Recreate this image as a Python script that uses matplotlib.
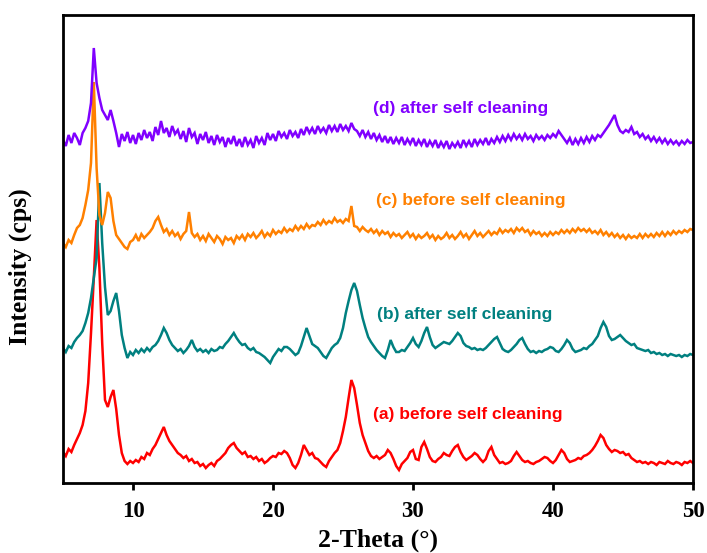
import numpy as np
import matplotlib
matplotlib.use("Agg")
import matplotlib.pyplot as plt

# 2-theta sampling (degrees)
two_theta = np.round(np.linspace(5.0, 50.0, 226), 1)

# (a) before self cleaning
intensity_a = [
    31, 27, 34, 31, 38, 44, 50, 58, 72, 100,
    150, 205, 263, 215, 140, 83, 76, 86, 93, 74,
    48, 30, 22, 19, 22, 20, 23, 21, 26, 24,
    30, 28, 34, 38, 44, 50, 56, 48, 42, 38,
    34, 30, 28, 25, 27, 22, 24, 20, 21, 17,
    19, 15, 18, 20, 17, 22, 24, 27, 30, 35,
    38, 40, 35, 32, 29, 31, 26, 27, 24, 26,
    22, 24, 20, 22, 25, 27, 26, 30, 29, 32,
    30, 25, 18, 15, 20, 28, 38, 33, 28, 30,
    25, 24, 21, 18, 16, 22, 26, 30, 33, 40,
    52, 66, 85, 103, 95, 78, 60, 48, 40, 32,
    27, 25, 27, 24, 26, 28, 33, 30, 24, 17,
    13, 19, 22, 25, 31, 33, 24, 23, 36, 41,
    34, 26, 22, 21, 24, 26, 30, 28, 27, 32,
    36, 38, 31, 26, 23, 25, 27, 30, 28, 24,
    21, 24, 32, 36, 28, 24, 20, 21, 19, 20,
    22, 27, 31, 27, 23, 21, 22, 20, 19, 21,
    22, 24, 26, 25, 22, 20, 23, 28, 33, 30,
    24, 21, 22, 23, 25, 24, 27, 28, 30, 33,
    37, 42, 48, 45, 38, 34, 31, 33, 32, 30,
    31, 28, 29, 25, 23, 21, 22, 20, 21, 19,
    21, 20, 18, 21, 20, 19, 22, 20, 19, 21,
    20, 18, 21, 20, 22, 20,
]

# (b) after self cleaning
intensity_b = [
    35, 31, 37, 35, 41, 45, 48, 52, 60, 70,
    85, 105, 125, 200, 140, 96, 68, 72, 82, 90,
    72, 48, 35, 25, 31, 28, 33, 30, 34, 31,
    35, 32, 36, 38, 42, 48, 55, 50, 43, 38,
    35, 32, 34, 30, 33, 37, 43, 36, 32, 34,
    31, 33, 30, 34, 32, 33, 36, 35, 39, 42,
    46, 50, 45, 41, 38, 39, 35, 33, 35, 31,
    30, 28, 26, 23, 20, 26, 30, 34, 32, 36,
    36, 34, 31, 28, 30, 37, 46, 55, 47, 39,
    37, 35, 31, 27, 25, 30, 35, 38, 40, 45,
    55, 70, 82, 93, 100, 92, 78, 65, 55, 46,
    41, 37, 33, 30, 27, 25, 33, 43, 36, 31,
    31, 33, 32, 36, 40, 45, 39, 36, 42, 50,
    56, 46, 38, 35, 37, 39, 41, 40, 39, 42,
    46, 50, 47, 40, 37, 36, 34, 35, 33, 34,
    33, 35, 38, 41, 44, 46, 40, 34, 32, 31,
    33, 36, 39, 43, 45, 39, 34, 31, 32, 30,
    32, 31, 33, 34, 36, 35, 32, 31, 34, 38,
    43, 40, 34, 31, 32, 33, 35, 34, 37, 39,
    43, 47, 55, 61, 56, 47, 43, 44, 46, 48,
    45, 42, 40, 38, 39, 35, 34, 33, 32, 33,
    30, 31, 29, 30, 28, 29, 27, 29, 28, 27,
    28, 26, 28, 27, 29, 28,
]

# (c) before self cleaning
intensity_c = [
    30, 26, 33, 30, 38, 45, 48, 55, 68, 83,
    110, 191, 105, 58, 48, 60, 81, 75, 52, 38,
    34, 30, 26, 24, 31, 33, 38, 32, 39, 35,
    38, 41, 45, 52, 56, 48, 41, 44, 38, 42,
    37, 40, 34, 39, 42, 61, 40, 36, 39, 33,
    37, 32, 39, 35, 31, 37, 34, 29, 36, 33,
    35, 30, 37, 34, 38, 33, 39, 36, 40, 35,
    38, 42, 36, 40, 37, 43, 39, 42, 40, 45,
    41, 44, 42, 47, 43, 47, 44, 49, 45, 48,
    47, 51, 48, 53, 49, 52, 50, 55, 51, 53,
    50, 54, 52, 67, 47, 46, 42, 46, 43, 41,
    44, 40, 43, 38, 42, 39, 41, 36, 40, 37,
    39, 35, 38, 41, 36, 39, 34, 38, 35, 37,
    40, 35, 38, 33, 37, 34, 36, 40, 35, 38,
    34, 37, 41, 36, 39, 34, 38, 42, 37, 40,
    36, 39, 42, 38, 41, 39, 44, 40, 43, 41,
    44, 40, 45, 42, 45, 41, 43, 38, 42, 39,
    41, 37, 40, 37, 41, 38, 41, 39, 43, 40,
    43, 40, 44, 41, 45, 42, 44, 41, 44, 40,
    42, 39, 43, 38, 41, 37, 40, 36, 39, 35,
    38, 34, 38, 35, 37, 35, 39, 35, 39, 36,
    39, 36, 40, 37, 41, 37, 41, 38, 42, 39,
    42, 40, 43, 41, 44, 43,
]

# (d) after self cleaning
intensity_d = [
    33, 27, 38, 30, 40, 35, 28, 40, 45, 52,
    70, 125, 90, 75, 63, 58, 53, 63, 52, 40,
    26, 39, 32, 41, 30, 38, 29, 40, 33, 43,
    35, 41, 32, 46, 38, 52, 40, 45, 36, 47,
    39, 43, 34, 42, 31, 45, 36, 40, 29, 39,
    33, 41, 30, 37, 28, 38, 31, 36, 26, 35,
    29, 37, 27, 34, 26, 36, 28, 33, 25, 37,
    30, 35, 28, 40, 33, 39, 32, 42, 36, 40,
    34, 43, 37, 41, 35, 44, 38, 46, 40, 45,
    39, 47, 41, 45, 40, 48, 42, 47, 41, 49,
    43, 47, 42, 50, 44, 42, 37, 43, 36, 41,
    34, 40, 33, 38, 31, 37, 30, 36, 29, 35,
    30, 36, 28, 34, 29, 35, 27, 33, 28, 34,
    26, 32, 27, 33, 25, 31, 26, 32, 24, 30,
    26, 31, 25, 33, 27, 32, 26, 34, 28, 33,
    29, 35, 28, 34, 30, 36, 31, 37, 32, 38,
    33, 39, 34, 38, 33, 39, 34, 37, 32, 38,
    34, 37, 33, 38, 35, 39, 36, 42, 38, 34,
    30, 35, 28, 34, 29, 35, 30, 36, 31, 37,
    33, 38, 36, 40, 44, 48, 53, 58, 48, 42,
    40, 43, 41, 46, 39, 41, 36, 39, 34, 37,
    32, 36, 31, 35, 30, 34, 29, 33, 29, 32,
    28, 32, 29, 33, 30, 31,
]

series = [intensity_a, intensity_b, intensity_c, intensity_d]
labels = ["(a) before self cleaning", "(b) after self cleaning",
          "(c) before self cleaning", "(d) after self cleaning"]
colors = ["#FF0000", "#008080", "#FF8000", "#8000FF"]
stack_offsets = [0, 100, 210, 310]
label_xy = [(27.14, 68), (27.4, 168), (27.36, 283), (27.14, 375)]

serif = ["Liberation Serif", "DejaVu Serif"]
sans = ["Liberation Sans", "DejaVu Sans"]

fig = plt.figure(figsize=(7.07, 5.53), dpi=100)
ax = fig.add_axes([63 / 707, 70 / 553, 630 / 707, 468 / 553])

for vals, off, col in zip(series, stack_offsets, colors):
    ax.plot(two_theta, np.asarray(vals) + off, color=col, lw=1.8,
            solid_joinstyle="miter")

for (tx, ty), text, col in zip(label_xy, labels, colors):
    ax.text(tx, ty, text, color=col, fontsize=12.5, fontweight="bold",
            family=sans, ha="left", va="center")

ax.set_xlim(5, 50)
ax.set_ylim(0, 468)
ax.set_xticks([10, 20, 30, 40, 50])
ax.set_yticks([])
for s in ax.spines.values():
    s.set_linewidth(2)
ax.tick_params(axis="x", direction="out", length=5, width=2, pad=8)
for lbl in ax.get_xticklabels():
    lbl.set_fontfamily(serif)
    lbl.set_fontweight("bold")
    lbl.set_fontsize(16.5)

ax.set_xlabel("2-Theta (°)", fontsize=18.5, fontweight="bold", family=serif)
ax.xaxis.set_label_coords(0.5, -0.122)
ax.xaxis.label.set_verticalalignment("center")
ax.set_ylabel("Intensity (cps)", fontsize=18.5, fontweight="bold", family=serif)
ax.yaxis.set_label_coords(-0.068, 0.4615)
ax.yaxis.label.set_verticalalignment("center")

fig.savefig("out.png", dpi=100)
